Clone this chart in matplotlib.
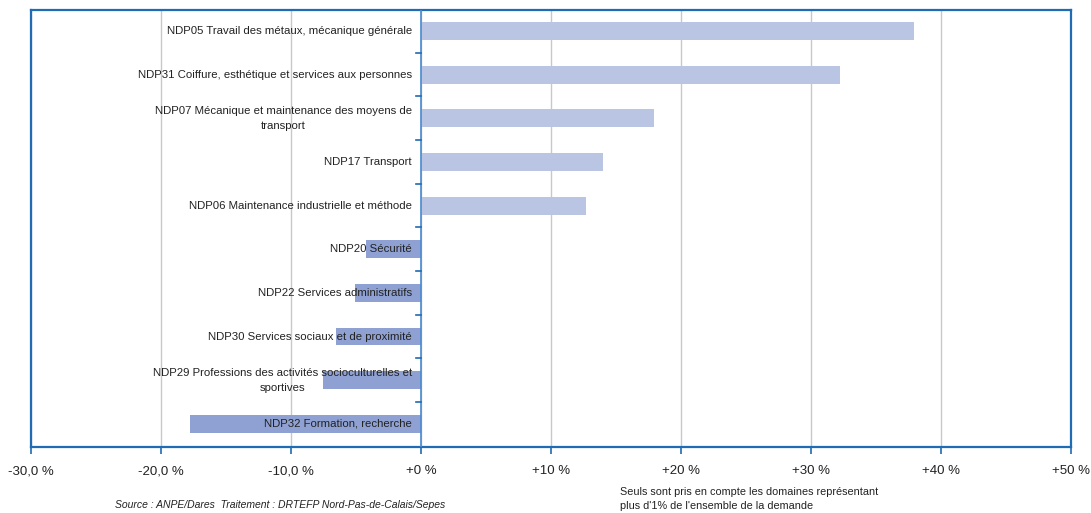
import numpy as np
import matplotlib.pyplot as plt

plt.rcParams['font.family'] = ['Liberation Sans Narrow', 'Liberation Sans', 'DejaVu Sans']

domaines = [
    'NDP05 Travail des métaux, mécanique générale',
    'NDP31 Coiffure, esthétique et services aux personnes',
    'NDP07 Mécanique et maintenance des moyens de\ntransport',
    'NDP17 Transport',
    'NDP06 Maintenance industrielle et méthode',
    'NDP20 Sécurité',
    'NDP22 Services administratifs',
    'NDP30 Services sociaux et de proximité',
    'NDP29 Professions des activités socioculturelles et\nsportives',
    'NDP32 Formation, recherche',
]
evolution = [37.9, 32.2, 17.9, 14.0, 12.7, -4.2, -5.1, -6.5, -7.5, -17.8]

x_ticks = [-30, -20, -10, 0, 10, 20, 30, 40, 50]
x_labels = ['-30,0 %', '-20,0 %', '-10,0 %', '+0 %', '+10 %', '+20 %', '+30 %', '+40 %', '+50 %']

blue = '#1F6BB4'
col_pos = '#BAC5E3'
col_neg = '#8EA1D2'

fig = plt.figure(figsize=(10.91, 5.13), dpi=100)
ax = fig.add_axes([0.0284, 0.1287, 0.9533, 0.8518])

y = np.arange(len(domaines))
colors = [col_pos if v > 0 else col_neg for v in evolution]
ax.barh(y, evolution, height=0.41, color=colors, zorder=2)

ax.set_xlim(-30, 50)
ax.set_ylim(len(domaines) - 0.47, -0.48)
ax.set_xticks(x_ticks)
ax.set_xticklabels(x_labels, fontsize=9.5, color='#222222')
ax.set_yticks([])
ax.tick_params(axis='x', length=5, color=blue, width=1.2, pad=8)
ax.grid(axis='x', color='#C8C8C8', linewidth=1, zorder=0)

for s in ax.spines.values():
    s.set_color(blue)
    s.set_linewidth(1.6)

# axe vertical au zéro avec petites graduations entre les catégories
ax.axvline(0, color='#4A8BD0', linewidth=1.2, zorder=3)
for yy in np.arange(0.5, len(domaines) - 1, 1.0):
    ax.plot([-0.4, 0], [yy, yy], color=blue, linewidth=1.2, zorder=3)

for yi, lab in zip(y, domaines):
    ax.text(-0.7, yi, lab, ha='right', va='center', multialignment='center',
            fontsize=8.2, color='#222222', zorder=4, linespacing=1.6)

fig.text(0.257, 0.016, 'Source : ANPE/Dares  Traitement : DRTEFP Nord-Pas-de-Calais/Sepes',
         ha='center', va='center', fontsize=7.5, style='italic', color='#222222')
fig.text(0.5685, 0.004, "Seuls sont pris en compte les domaines représentant\nplus d'1% de l'ensemble de la demande",
         ha='left', va='bottom', fontsize=7.8, color='#222222', linespacing=1.55)

fig.savefig('out.png', dpi=100)
